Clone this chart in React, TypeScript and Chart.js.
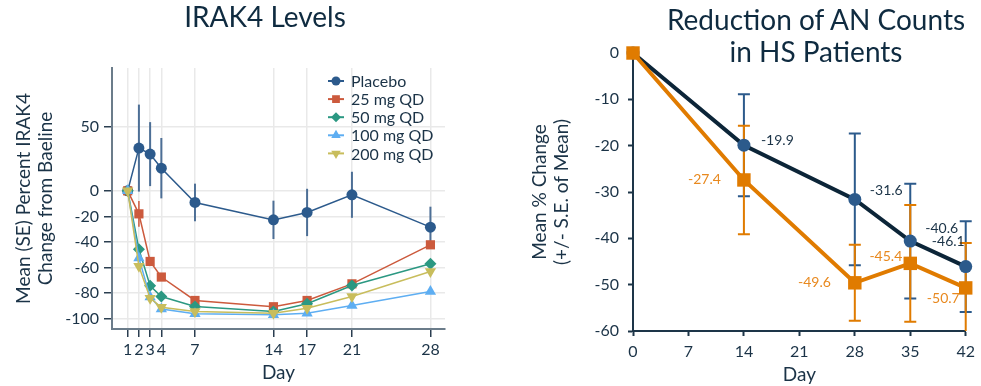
import React, { useEffect, useRef } from "react";
import { Chart, registerables } from "chart.js";
import { drawPoint } from "chart.js/helpers";

Chart.register(...registerables);

// ---------- Left panel: IRAK4 Levels ----------
const irakDays = [1, 2, 3, 4, 7, 14, 17, 21, 28];
const placeboVals = [0, 33.4, 28.7, 17.7, -9.1, -22.7, -16.9, -3.1, -28.4];
const placeboSE = [0, 34, 25, 23.6, 14.7, 15, 18.5, 18, 16];
const mg25Vals = [0, -18, -55.2, -67.4, -85.7, -90.6, -85.7, -72.7, -42.2];
const mg25SE = [0, 10, 0, 0, 0, 0, 0, 0, 0];
const mg50Vals = [0, -45.6, -74.2, -82.6, -90.4, -94.3, -88.3, -74, -57];
const mg100Vals = [0, -52.6, -83, -92.4, -96, -96.9, -95.6, -89.6, -78.7];
const mg200Vals = [0, -59, -83.9, -91, -94.3, -95.6, -91.7, -82.6, -63];
const irakSeriesNames = ["Placebo", "25 mg QD", "50 mg QD", "100 mg QD", "200 mg QD"];
const irakXTicks = [1, 2, 3, 4, 7, 14, 17, 21, 28];
const irakYTicks = [50, 0, -20, -40, -60, -80, -100];

// ---------- Right panel: Reduction of AN Counts ----------
const anDays = [0, 14, 28, 35, 42];
const anBlueVals = [0, -19.9, -31.6, -40.6, -46.1];
const anBlueSE = [0, 11, 14.2, 12.4, 9.8];
const anOrangeVals = [0, -27.4, -49.6, -45.4, -50.7];
const anOrangeSE = [0, 11.7, 8.2, 12.6, 9.7];
const anXTicks = [0, 7, 14, 21, 28, 35, 42];
const anYTicks = [0, -10, -20, -30, -40, -50, -60];

const TEXT = "#1b3347";
const FONT = "Lato";

Chart.defaults.font.family = FONT;
Chart.defaults.color = TEXT;

const toPts = (xs: number[], ys: number[]) => xs.map((x, i) => ({ x, y: ys[i] }));

const errorBarPlugin = {
  id: "errorBars",
  beforeDatasetsDraw(chart: any) {
    const ctx = chart.ctx;
    const area = chart.chartArea;
    ctx.save();
    ctx.beginPath();
    ctx.rect(0, area.top, chart.width, area.bottom - area.top);
    ctx.clip();
    chart.data.datasets.forEach((ds: any, i: number) => {
      const eb = ds.errorBars;
      if (!eb) return;
      const meta = chart.getDatasetMeta(i);
      const yScale = chart.scales[meta.yAxisID];
      meta.data.forEach((pt: any, j: number) => {
        const e = eb.se[j];
        if (!e) return;
        const v = ds.data[j].y;
        const yT = yScale.getPixelForValue(v + e);
        const yB = yScale.getPixelForValue(v - e);
        ctx.strokeStyle = eb.color;
        ctx.lineWidth = eb.width;
        ctx.beginPath();
        ctx.moveTo(pt.x, yT);
        ctx.lineTo(pt.x, yB);
        if (eb.cap) {
          ctx.moveTo(pt.x - eb.cap, yT);
          ctx.lineTo(pt.x + eb.cap, yT);
          ctx.moveTo(pt.x - eb.cap, yB);
          ctx.lineTo(pt.x + eb.cap, yB);
        }
        ctx.stroke();
      });
    });
    ctx.restore();
  },
};

const fixedTicks = (vals: number[]) => (scale: any) => {
  scale.ticks = vals.map((v) => ({ value: v }));
};

function IrakChart() {
  const ref = useRef<HTMLCanvasElement>(null);
  useEffect(() => {
    const styles = [
      { color: "#2c5a8c", pointStyle: "circle", radius: 5.5, rotation: 0 },
      { color: "#cc5a3d", pointStyle: "rect", radius: 6.5, rotation: 0 },
      { color: "#2b9882", pointStyle: "rectRot", radius: 6, rotation: 0 },
      { color: "#5eaef2", pointStyle: "triangle", radius: 6.5, rotation: 0 },
      { color: "#c8bd5c", pointStyle: "triangle", radius: 6.5, rotation: 180 },
    ];
    const series = [placeboVals, mg25Vals, mg50Vals, mg100Vals, mg200Vals];
    const errs: any[] = [
      { se: placeboSE, color: "#4d6f96", width: 2, cap: 0 },
      { se: mg25SE, color: "#cc5a3d", width: 1.5, cap: 0 },
      null,
      null,
      null,
    ];
    const datasets = series.map((vals, i) => ({
      label: irakSeriesNames[i],
      data: toPts(irakDays, vals),
      borderColor: styles[i].color,
      backgroundColor: styles[i].color,
      pointBackgroundColor: styles[i].color,
      pointBorderColor: styles[i].color,
      pointBorderWidth: 0,
      borderWidth: 1.5,
      pointStyle: styles[i].pointStyle,
      pointRadius: styles[i].radius,
      pointRotation: styles[i].rotation,
      order: 4 - i,
      errorBars: errs[i] || undefined,
    }));

    const legendPlugin = {
      id: "irakLegend",
      afterDraw(chart: any) {
        const ctx = chart.ctx;
        const area = chart.chartArea;
        const mx = area.right - 109;
        ctx.save();
        styles.forEach((s, i) => {
          const y = area.top + 13 + i * 18.1;
          ctx.strokeStyle = s.color;
          ctx.fillStyle = s.color;
          ctx.lineWidth = 2;
          ctx.beginPath();
          ctx.moveTo(mx - 8, y);
          ctx.lineTo(mx + 8, y);
          ctx.stroke();
          drawPoint(ctx, { pointStyle: s.pointStyle as any, radius: s.radius - 1, rotation: s.rotation, borderWidth: 0 }, mx, y);
          ctx.fillStyle = TEXT;
          ctx.font = `16px ${FONT}`;
          ctx.textAlign = "left";
          ctx.textBaseline = "middle";
          ctx.fillText(irakSeriesNames[i], mx + 15, y + 1);
        });
        ctx.restore();
      },
    };

    const chart = new Chart(ref.current!, {
      type: "line",
      data: { datasets: datasets as any },
      options: {
        animation: false,
        responsive: false,
        devicePixelRatio: 1,
        layout: { padding: { left: 0, right: 45, top: 68, bottom: 0 } },
        plugins: { legend: { display: false }, tooltip: { enabled: false } },
        elements: { line: { tension: 0 } },
        scales: {
          x: {
            type: "linear",
            min: -0.4,
            max: 29.3,
            afterBuildTicks: fixedTicks(irakXTicks),
            afterFit: (s: any) => { s.height = 57; },
            grid: { color: "#e9e9e9", lineWidth: 1.5, tickColor: "#2b3e50", tickLength: 8, tickWidth: 1.5 },
            border: { color: "#6b7c8a", width: 2 },
            ticks: { font: { size: 16 }, color: TEXT, padding: 3, autoSkip: false, maxRotation: 0 },
            title: { display: true, text: "Day", font: { size: 19 }, color: TEXT, padding: { top: 0, bottom: 2 } },
          },
          y: {
            type: "linear",
            min: -108,
            max: 96,
            afterBuildTicks: fixedTicks(irakYTicks),
            afterFit: (s: any) => { s.width = 112; },
            grid: { color: "#e9e9e9", lineWidth: 1.5, tickColor: "#2b3e50", tickLength: 8, tickWidth: 1.5 },
            border: { color: "#6b7c8a", width: 2 },
            ticks: { font: { size: 16 }, color: TEXT, padding: 5 },
            title: {
              display: true,
              text: ["Mean (SE) Percent IRAK4", "Change from Baeline"],
              font: { size: 19, lineHeight: 1.2 },
              color: TEXT,
              padding: { top: 12, bottom: 0 },
            },
          },
        },
      } as any,
      plugins: [errorBarPlugin, legendPlugin],
    });
    return () => chart.destroy();
  }, []);
  return <canvas ref={ref} width={490} height={386} style={{ position: "absolute", left: 0, top: 0, width: 490, height: 386 }} />;
}

function AnChart() {
  const ref = useRef<HTMLCanvasElement>(null);
  useEffect(() => {
    const BLUE_LINE = "#0c2538";
    const BLUE_PT = "#2c5a8b";
    const ORANGE = "#e07b00";
    const blueLabelPos = [null, [17, -5, "left"], [15, -9, "left"], [15, -13, "left"], [-1, -25, "right"]];
    const orangeLabelPos = [null, [-23, 0, "right"], [-24, 0, "right"], [-8, -7, "right"], [-6, 11, "right"]];

    const labelPlugin = {
      id: "anLabels",
      afterDatasetsDraw(chart: any) {
        const ctx = chart.ctx;
        ctx.save();
        ctx.font = `14px ${FONT}`;
        ctx.textBaseline = "middle";
        const cfg = [
          { pos: blueLabelPos, color: TEXT, vals: anBlueVals },
          { pos: orangeLabelPos, color: "#e8891f", vals: anOrangeVals },
        ];
        cfg.forEach((c, i) => {
          const meta = chart.getDatasetMeta(i);
          meta.data.forEach((pt: any, j: number) => {
            const p = c.pos[j] as any;
            if (!p) return;
            ctx.fillStyle = c.color;
            ctx.textAlign = p[2];
            ctx.fillText(c.vals[j].toFixed(1), pt.x + p[0], pt.y + p[1]);
          });
        });
        ctx.restore();
      },
    };

    const chart = new Chart(ref.current!, {
      type: "line",
      data: {
        datasets: [
          {
            label: "Group A",
            data: toPts(anDays, anBlueVals),
            borderColor: BLUE_LINE,
            backgroundColor: BLUE_PT,
            pointBackgroundColor: BLUE_PT,
            pointBorderColor: BLUE_PT,
            pointBorderWidth: 0,
            borderWidth: 4,
            pointStyle: "circle",
            pointRadius: 6.5,
            order: 1,
            clip: false,
            errorBars: { se: anBlueSE, color: BLUE_PT, width: 2, cap: 6 },
          },
          {
            label: "Group B",
            data: toPts(anDays, anOrangeVals),
            borderColor: ORANGE,
            backgroundColor: ORANGE,
            pointBackgroundColor: ORANGE,
            pointBorderColor: ORANGE,
            pointBorderWidth: 0,
            borderWidth: 4,
            pointStyle: "rect",
            pointRadius: 9.5,
            order: 0,
            clip: false,
            errorBars: { se: anOrangeSE, color: ORANGE, width: 2, cap: 6 },
          },
        ] as any,
      },
      options: {
        animation: false,
        responsive: false,
        devicePixelRatio: 1,
        layout: { padding: { left: 0, right: 12, top: 53, bottom: 0 } },
        plugins: { legend: { display: false }, tooltip: { enabled: false } },
        elements: { line: { tension: 0 } },
        scales: {
          x: {
            type: "linear",
            min: 0,
            max: 42,
            afterBuildTicks: fixedTicks(anXTicks),
            afterFit: (s: any) => { s.height = 55; },
            grid: { drawOnChartArea: false, tickColor: "#1d3548", tickLength: 5, tickWidth: 2 },
            border: { color: "#1d3548", width: 2 },
            ticks: { font: { size: 16 }, color: TEXT, padding: 6, autoSkip: false, maxRotation: 0 },
            title: { display: true, text: "Day", font: { size: 19 }, color: TEXT, padding: { top: 0, bottom: 0 } },
          },
          y: {
            type: "linear",
            min: -60,
            max: 0,
            afterBuildTicks: fixedTicks(anYTicks),
            afterFit: (s: any) => { s.width = 143; },
            grid: { drawOnChartArea: false, tickColor: "#1d3548", tickLength: 5, tickWidth: 2 },
            border: { color: "#1d3548", width: 2 },
            ticks: { font: { size: 16 }, color: TEXT, padding: 9 },
            title: {
              display: true,
              text: ["Mean % Change", "(+/- S.E. of Mean)"],
              font: { size: 19, lineHeight: 1.2 },
              color: TEXT,
              padding: { top: 38, bottom: 0 },
            },
          },
        },
      } as any,
      plugins: [errorBarPlugin, labelPlugin],
    });
    return () => chart.destroy();
  }, []);
  return <canvas ref={ref} width={491} height={386} style={{ position: "absolute", left: 490, top: 0, width: 491, height: 386 }} />;
}

export default function App() {
  const titleStyle: React.CSSProperties = {
    position: "absolute",
    fontFamily: FONT,
    fontSize: 28,
    lineHeight: "32px",
    color: "#0f2b40",
    textAlign: "center",
    whiteSpace: "nowrap",
  };
  return (
    <div style={{ position: "fixed", left: 0, top: 0, width: 981, height: 386, background: "#ffffff", overflow: "hidden" }}>
      <IrakChart />
      <AnChart />
      <div style={{ ...titleStyle, left: 115, top: 0, width: 300 }}>IRAK4 Levels</div>
      <div style={{ ...titleStyle, left: 616, top: 3, width: 400 }}>
        Reduction of AN Counts
        <br />
        in HS Patients
      </div>
    </div>
  );
}
